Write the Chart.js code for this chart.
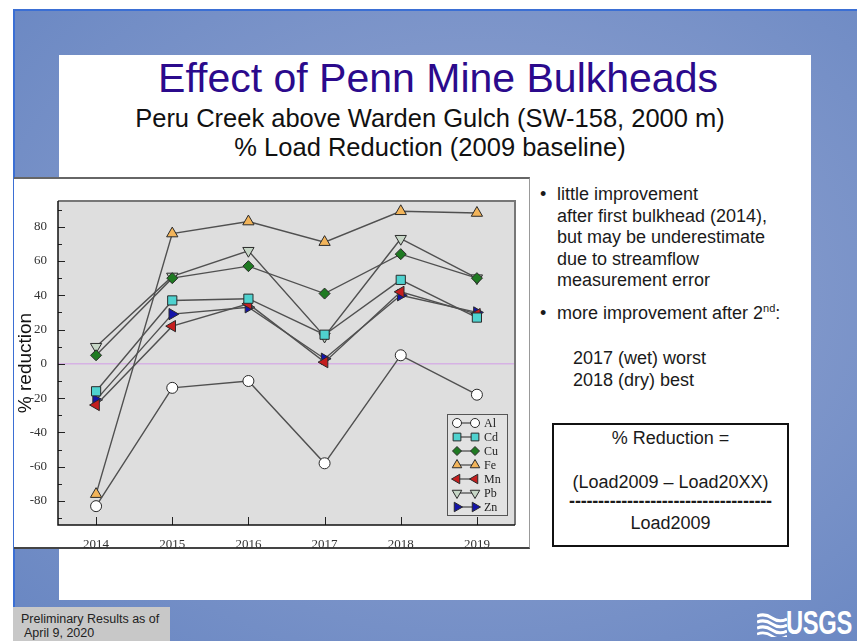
<!DOCTYPE html>
<html>
<head>
<meta charset="utf-8">
<script src="https://cdn.jsdelivr.net/npm/chart.js"></script>
<style>
  body { margin: 0; width: 857px; height: 641px; overflow: hidden; background: #fff; position: relative; font-family: "Liberation Sans", Arial, sans-serif; }
  #slide { position: absolute; left: 13px; top: 9px; width: 844px; height: 632px;
    background: radial-gradient(ellipse at 55% 45%, #a3b5dc 0%, #8198cb 45%, #6886c2 100%);
    border-left: 2px solid #3b6fd4; border-top: 2px solid #3b6fd4; box-sizing: border-box; }
  #panel { position: absolute; left: 59px; top: 55px; width: 752px; height: 545px; background: #fff; }
  .t { position: absolute; white-space: nowrap; color: #1a1a1a; }
  #title { left: 0; width: 876px; text-align: center; top: 58px; font-size: 41px; line-height: 41px; color: #2b0a8c; }
  #sub { left: 0; width: 860px; text-align: center; top: 104px; font-size: 25.5px; line-height: 29px; color: #111; }
  #chartbox { position: absolute; left: 14px; top: 177px; width: 516px; height: 372px; background: #fff;
    border-top: 2px solid #666; border-bottom: 2px solid #444; border-right: 1px solid #999; box-sizing: border-box; }
  #chart { position: absolute; left: 14px; top: 178px; }
  .b { font-size: 18px; line-height: 21.5px; }
  #formula { position: absolute; left: 552px; top: 423px; width: 237px; height: 124px; border: 2px solid #111; box-sizing: border-box; background: #fff; }
  #formula div { position: absolute; left: 0; width: 100%; text-align: center; font-size: 18px; line-height: 20px; color: #1a1a1a; white-space: nowrap; }
  #prelim { position: absolute; left: 13px; top: 607px; width: 157px; height: 34px; background: #c8c8c8; font-size: 12.5px; line-height: 14px; color: #222; }
  #usgs { position: absolute; left: 786px; top: 605px; font-size: 33px; font-weight: bold; color: #fff; transform: scaleX(0.72); transform-origin: left top; line-height: 36px; letter-spacing: -0.5px; }
</style>
</head>
<body>
<div id="slide"></div>
<div id="panel"></div>
<div class="t" id="title">Effect of Penn Mine Bulkheads</div>
<div class="t" id="sub">Peru Creek above Warden Gulch (SW-158, 2000 m)<br>% Load Reduction (2009 baseline)</div>

<div id="chartbox"></div>
<canvas id="chart" width="516" height="370"></canvas>

<div class="t b" style="left:540px; top:184px;">•</div>
<div class="t b" style="left:557px; top:184px;">little improvement<br>after first bulkhead (2014),<br>but may be underestimate<br>due to streamflow<br>measurement error</div>
<div class="t b" style="left:540px; top:303px;">•</div>
<div class="t b" style="left:557px; top:303px;">more improvement after 2<sup style="font-size:11px; line-height:0;">nd</sup>:</div>
<div class="t b" style="left:573px; top:348px;">2017 (wet) worst<br>2018 (dry) best</div>

<div id="formula">
  <div style="top:3px;">% Reduction =</div>
  <div style="top:47px;">(Load2009 – Load20XX)</div>
  <div style="top:66px; font-weight:bold; letter-spacing:-0.2px;">-----------------------------------</div>
  <div style="top:88px;">Load2009</div>
</div>

<div id="prelim"><div style="position:absolute; left:8px; top:5px;">Preliminary Results as of</div><div style="position:absolute; left:11px; top:19px;">April 9, 2020</div></div>

<svg style="position:absolute; left:757px; top:613px;" width="30" height="24" viewBox="0 0 30 24">
  <path d="M0 3 Q8 0 15 5 T30 6" stroke="#fff" stroke-width="3" fill="none"/>
  <path d="M0 9 Q8 6 15 11 T30 12" stroke="#fff" stroke-width="3" fill="none"/>
  <path d="M0 15 Q8 12 15 17 T30 18" stroke="#fff" stroke-width="3" fill="none"/>
  <path d="M0 21 Q8 18 15 23 T30 23" stroke="#fff" stroke-width="2.5" fill="none"/>
</svg>
<div id="usgs">USGS</div>

<script>
const years = [2014, 2015, 2016, 2017, 2018, 2019]
const alValues = [-83, -14, -10, -58, 5, -18]
const cdValues = [-16, 37, 38, 17, 49, 27]
const cuValues = [5, 50, 57, 41, 64, 50]
const feValues = [-76, 76, 83, 71, 89, 88]
const mnValues = [-24, 22, 35, 1, 42, 29]
const pbValues = [10, 51, 66, 16, 73, 50]
const znValues = [-21, 29, 33, 3, 40, 30]
const yTickValues = [-80, -60, -40, -20, 0, 20, 40, 60, 80]

const PLOT_BG = '#dedede'
const LINE_GRAY = '#505050'

const series = [
    { label: 'Al', data: alValues, color: '#ffffff', style: 'circle',   rot: 0,   r: 5.5 },
    { label: 'Cd', data: cdValues, color: '#4fd2cf', style: 'rect',     rot: 0,   r: 6.5 },
    { label: 'Cu', data: cuValues, color: '#1f7a22', style: 'rectRot',  rot: 0,   r: 5.5 },
    { label: 'Fe', data: feValues, color: '#f2b45a', style: 'triangle', rot: 0,   r: 6.5 },
    { label: 'Mn', data: mnValues, color: '#c41e1e', style: 'triangle', rot: -90, r: 6.5 },
    { label: 'Pb', data: pbValues, color: '#c6d6c6', style: 'triangle', rot: 180, r: 6.5 },
    { label: 'Zn', data: znValues, color: '#1414a8', style: 'triangle', rot: 90,  r: 6.5 },
]

const datasets = series.map( (s) => ({
    label: s.label,
    data: years.map( (yr, i) => ({ x: yr, y: s.data[i] }) ),
    borderColor: LINE_GRAY,
    borderWidth: 1.4,
    pointStyle: s.style,
    pointRotation: s.rot,
    pointRadius: s.r,
    pointBackgroundColor: s.color,
    pointBorderColor: '#2a2a2a',
    pointBorderWidth: 1,
    fill: false,
    tension: 0,
}))

// plot background, frame and inward tick marks
const framePlugin = {
    id: 'frame',
    beforeDraw(chart) {
        const { ctx, chartArea: a } = chart
        ctx.save()
        ctx.fillStyle = PLOT_BG
        ctx.fillRect(a.left, a.top, a.right - a.left, a.bottom - a.top)
        ctx.restore()
    },
    beforeDatasetsDraw(chart) {
        const { ctx, chartArea: a, scales } = chart
        ctx.save()
        ctx.strokeStyle = '#222'
        ctx.lineWidth = 1
        // minor + major y ticks
        for (let v = -90; v <= 90; v += 10) {
            const py = Math.round(scales.y.getPixelForValue(v)) + 0.5
            const len = v % 20 === 0 ? 7 : 4
            ctx.beginPath(); ctx.moveTo(a.left, py); ctx.lineTo(a.left + len, py); ctx.stroke()
        }
        years.forEach( (yr) => {
            const px = Math.round(scales.x.getPixelForValue(yr)) + 0.5
            ctx.beginPath(); ctx.moveTo(px, a.bottom); ctx.lineTo(px, a.bottom - 8); ctx.stroke()
        })
        // frame
        ctx.strokeStyle = '#777'
        ctx.lineWidth = 2
        ctx.beginPath(); ctx.moveTo(a.left, a.top); ctx.lineTo(a.right, a.top); ctx.lineTo(a.right, a.bottom); ctx.stroke()
        ctx.strokeStyle = '#111'
        ctx.lineWidth = 1.5
        ctx.beginPath(); ctx.moveTo(a.left, a.top); ctx.lineTo(a.left, a.bottom); ctx.lineTo(a.right, a.bottom); ctx.stroke()
        ctx.restore()
    }
}

function drawMarker(ctx, s, x, y, r) {
    const opts = { pointStyle: s.style, rotation: s.rot, radius: r, borderWidth: 1 }
    ctx.fillStyle = s.color
    ctx.strokeStyle = '#2a2a2a'
    ctx.lineWidth = 1
    if (Chart.helpers && Chart.helpers.drawPoint) {
        Chart.helpers.drawPoint(ctx, opts, x, y)
    } else {
        ctx.beginPath(); ctx.arc(x, y, r, 0, Math.PI * 2); ctx.fill(); ctx.stroke()
    }
}

// legend box inside plot, lower right: marker-line-marker
const legendPlugin = {
    id: 'innerLegend',
    afterDraw(chart) {
        const { ctx, chartArea: a } = chart
        const w = 60, h = 101
        const x0 = a.right - 8 - w, y0 = a.bottom - 10 - h
        ctx.save()
        ctx.fillStyle = '#e2e2e2'
        ctx.fillRect(x0, y0, w, h)
        ctx.strokeStyle = '#555'
        ctx.lineWidth = 1
        ctx.strokeRect(x0 + 0.5, y0 + 0.5, w, h)
        ctx.font = '12px "Liberation Serif", "Times New Roman", serif'
        ctx.textBaseline = 'middle'
        series.forEach( (s, i) => {
            const cy = y0 + 9 + i * 14
            const xa = x0 + 10, xb = x0 + 28
            ctx.strokeStyle = LINE_GRAY
            ctx.lineWidth = 1.3
            ctx.beginPath(); ctx.moveTo(xa, cy); ctx.lineTo(xb, cy); ctx.stroke()
            const r = s.style === 'circle' ? 4.5 : (s.style === 'rectRot' ? 4.5 : 5.5)
            drawMarker(ctx, s, xa, cy, r)
            drawMarker(ctx, s, xb, cy, r)
            ctx.fillStyle = '#222'
            ctx.fillText(s.label, x0 + 37, cy + 0.5)
        })
        ctx.restore()
    }
}

const ctx = document.getElementById('chart')
const myChart = new Chart(ctx, {
    type: 'line',
    data: { datasets },
    plugins: [ framePlugin, legendPlugin ],
    options: {
        responsive: false,
        animation: false,
        devicePixelRatio: 1,
        layout: { padding: { top: 23, right: 15, left: 0, bottom: 0 } },
        plugins: { legend: { display: false }, tooltip: { enabled: false } },
        scales: {
            x: {
                type: 'linear',
                min: 2013.5,
                max: 2019.5,
                afterBuildTicks: (scale) => { scale.ticks = years.map( (v) => ({ value: v }) ) },
                afterFit: (scale) => { scale.height = 23 },
                grid: { display: false },
                border: { display: false },
                ticks: {
                    callback: (v) => String(v),
                    font: { family: '"Liberation Serif", "Times New Roman", serif', size: 13 },
                    color: '#333',
                    padding: 4,
                    maxRotation: 0,
                },
            },
            y: {
                min: -94,
                max: 95,
                afterBuildTicks: (scale) => { scale.ticks = yTickValues.map( (v) => ({ value: v }) ) },
                afterFit: (scale) => { scale.width = 44 },
                grid: {
                    drawTicks: false,
                    color: (c) => c.tick && c.tick.value === 0 ? '#d6b2e4' : 'rgba(0,0,0,0)',
                    lineWidth: 1.5,
                },
                border: { display: false },
                ticks: {
                    callback: (v) => String(v),
                    font: { family: '"Liberation Serif", "Times New Roman", serif', size: 13 },
                    color: '#333',
                    padding: 11,
                },
                title: {
                    display: true,
                    text: '% reduction',
                    font: { family: '"Liberation Sans", Arial, sans-serif', size: 19 },
                    color: '#111',
                    padding: { top: 0, bottom: 0 },
                },
            },
        },
    },
})
</script>
</body>
</html>
